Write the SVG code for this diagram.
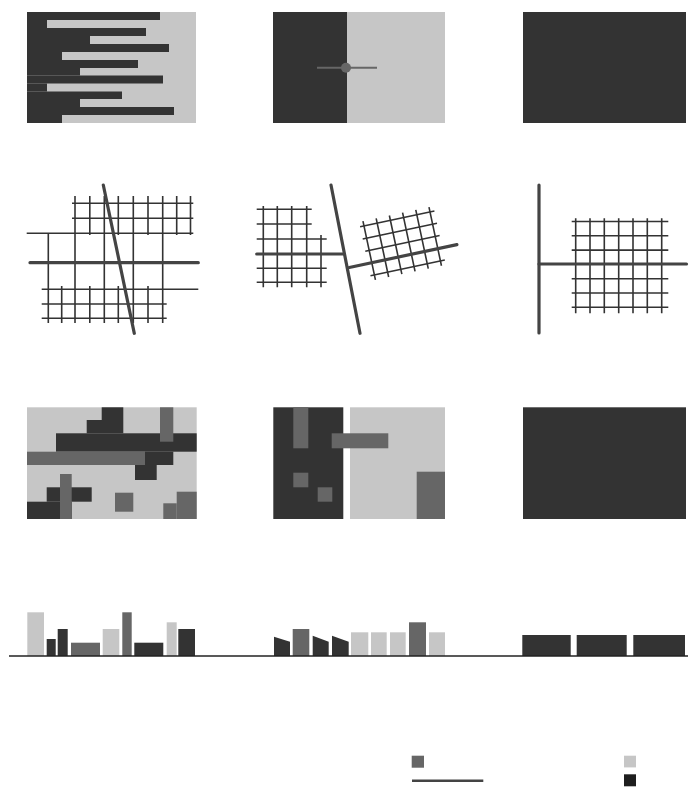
<svg xmlns="http://www.w3.org/2000/svg" width="693" height="787" viewBox="0 0 693 787">
<style>
.dk{fill:#333333}
.lt{fill:#c6c6c6}
.md{fill:#666666}
.thin{stroke:#333333;stroke-width:1.6;fill:none}
.thick{stroke:#444444;stroke-width:3.2;fill:none;stroke-linecap:round}
.base{stroke:#222222;stroke-width:1.5}
</style>
<rect width="693" height="787" fill="#ffffff"/>

<!-- Row 1 -->
<g id="p11">
<rect class="lt" x="27" y="12" width="169" height="111"/>
<rect class="dk" x="27" y="12" width="133" height="8"/>
<rect class="dk" x="27" y="20" width="20" height="8"/>
<rect class="dk" x="27" y="28" width="119" height="8"/>
<rect class="dk" x="27" y="36" width="63" height="8"/>
<rect class="dk" x="27" y="44" width="142" height="8"/>
<rect class="dk" x="27" y="52" width="35" height="8"/>
<rect class="dk" x="27" y="60" width="111" height="8"/>
<rect class="dk" x="27" y="68" width="53" height="7.5"/>
<rect class="dk" x="27" y="75.5" width="136" height="8"/>
<rect class="dk" x="27" y="83.5" width="20" height="8"/>
<rect class="dk" x="27" y="91.5" width="95" height="7.5"/>
<rect class="dk" x="27" y="99" width="53" height="8"/>
<rect class="dk" x="27" y="107" width="147" height="8"/>
<rect class="dk" x="27" y="115" width="35" height="8"/>
</g>
<g id="p12">
<rect class="dk" x="273" y="12" width="74" height="111"/>
<rect class="lt" x="347" y="12" width="98" height="111"/>
<line x1="317" y1="67.7" x2="377" y2="67.7" stroke="#666666" stroke-width="2"/>
<circle cx="346" cy="67.7" r="5" fill="#666666"/>
</g>
<g id="p13">
<rect class="dk" x="523" y="12" width="163" height="111"/>
</g>

<!-- Row 2 -->
<g id="p21">
<path class="thin" d="M72,203.3H193.3M72,218.3H193.3M26.7,233.3H193.3M41.7,289.3H198.3M41.7,304H166.7M41.7,318.3H166.7"/>
<path class="thin" d="M75,196V323M89.8,196V235M104.3,196V323M118.3,196V235M133.3,196V323M148,196V235M162.7,196V323M176.7,196V235M190.5,196V235"/>
<path class="thin" d="M48.3,233.3V323M61.7,286V323M89.8,286V323M118.3,286V323M148,286V323"/>
<line class="thick" x1="30" y1="262.7" x2="198.3" y2="262.7"/>
<line class="thick" x1="103.3" y1="185" x2="134.3" y2="333.3"/>
</g>
<g id="p22">
<path class="thin" d="M256.7,209.3H311.7M256.7,224H311.7M256.7,239H326.7M256.7,268.3H326.7M256.7,282.3H326.7"/>
<path class="thin" d="M263.3,206V287.3M277.3,206V287.3M291.7,206V287.3M306.7,206V287.3M321,235V287.3"/>
<line class="thick" x1="256.7" y1="254" x2="344" y2="254"/>
<line class="thick" x1="331" y1="185" x2="360" y2="333.3"/>
<g transform="translate(364,226) rotate(-12)">
<path class="thin" d="M-4,0H72M-4,12.5H72M-4,25H72M-4,50H72"/>
<path class="thin" d="M0,-5V55M13.5,-5V55M27,-5V55M40.5,-5V55M54,-5V55M67.5,-5V55"/>
<line class="thick" x1="-23" y1="37.5" x2="87" y2="37.5"/>
</g>
</g>
<g id="p23">
<path class="thin" d="M571.7,221.5H668.3M571.7,235.8H668.3M571.7,250.1H668.3M571.7,278.7H668.3M571.7,293H668.3M571.7,307.3H668.3"/>
<path class="thin" d="M575.7,218.3V313.3M590,218.3V313.3M604.3,218.3V313.3M618.7,218.3V313.3M633,218.3V313.3M647.3,218.3V313.3M661.7,218.3V313.3"/>
<line class="thick" x1="539" y1="185" x2="539" y2="333"/>
<line class="thick" x1="539" y1="264" x2="686.5" y2="264"/>
</g>

<!-- Row 3 -->
<g id="p31">
<rect class="lt" x="27" y="407.3" width="169.7" height="111.7"/>
<rect class="dk" x="101.7" y="407.3" width="21.6" height="12.7"/>
<rect class="dk" x="86.7" y="420" width="36.6" height="13.3"/>
<rect class="dk" x="56" y="433.3" width="140.7" height="18.4"/>
<rect class="dk" x="145" y="451.7" width="28.3" height="13.3"/>
<rect class="dk" x="135" y="465" width="21.7" height="15"/>
<rect class="md" x="160" y="407.3" width="13.3" height="34.4"/>
<rect class="md" x="27" y="451.7" width="118" height="13.3"/>
<rect class="dk" x="46.7" y="487.3" width="45" height="14.4"/>
<rect class="dk" x="27" y="501.7" width="44.7" height="17.3"/>
<rect class="md" x="60" y="474" width="11.7" height="45"/>
<rect class="md" x="115" y="492.7" width="18.3" height="19"/>
<rect class="md" x="176.7" y="491.7" width="20" height="27.3"/>
<rect class="md" x="163.3" y="503.3" width="13.4" height="15.7"/>
</g>
<g id="p32">
<rect class="dk" x="273.3" y="407.3" width="70" height="111.7"/>
<rect class="lt" x="350" y="407.3" width="95" height="111.7"/>
<rect class="md" x="293.3" y="407.3" width="15" height="41"/>
<rect class="md" x="331.7" y="433.3" width="56.6" height="15"/>
<rect class="md" x="293.3" y="472.7" width="15" height="14.6"/>
<rect class="md" x="317.7" y="487.3" width="14.6" height="14.4"/>
<rect class="md" x="416.7" y="471.7" width="28.3" height="47.3"/>
</g>
<g id="p33">
<rect class="dk" x="523" y="407.3" width="163" height="111.7"/>
</g>

<!-- Row 4 -->
<g id="p41">
<rect class="lt" x="27.3" y="612.3" width="16.7" height="43.7"/>
<rect class="dk" x="46.7" y="639" width="9" height="17"/>
<rect class="dk" x="57.7" y="629" width="10" height="27"/>
<rect class="md" x="71" y="642.7" width="29" height="13.3"/>
<rect class="lt" x="102.7" y="629" width="16.6" height="27"/>
<rect class="md" x="122.3" y="612.3" width="9.4" height="43.7"/>
<rect class="dk" x="134.3" y="642.7" width="29" height="13.3"/>
<rect class="lt" x="166.7" y="622.3" width="10" height="33.7"/>
<rect class="dk" x="178.3" y="629" width="16.7" height="27"/>
</g>
<g id="p42">
<polygon class="dk" points="274,636.7 290,641.7 290,656 274,656"/>
<rect class="md" x="292.7" y="629" width="16.6" height="27"/>
<polygon class="dk" points="312.7,635.7 328.7,641.7 328.7,656 312.7,656"/>
<polygon class="dk" points="332,635.7 348.7,641.7 348.7,656 332,656"/>
<rect class="lt" x="351" y="632.3" width="17.3" height="23.7"/>
<rect class="lt" x="371" y="632.3" width="15.7" height="23.7"/>
<rect class="lt" x="390" y="632.3" width="15.7" height="23.7"/>
<rect class="md" x="409" y="622.3" width="17" height="33.7"/>
<rect class="lt" x="429" y="632.3" width="16" height="23.7"/>
</g>
<g id="p43">
<rect class="dk" x="522.3" y="635" width="48.4" height="21"/>
<rect class="dk" x="576.7" y="635" width="50" height="21"/>
<rect class="dk" x="633.3" y="635" width="51.7" height="21"/>
</g>
<g id="connectors">
<line class="base" x1="9" y1="656" x2="688" y2="656"/>
</g>

<!-- Legend -->
<g id="legend">
<rect class="md" x="411.7" y="755.7" width="12.3" height="12"/>
<line x1="412" y1="780.7" x2="483.3" y2="780.7" stroke="#444444" stroke-width="2.6"/>
<rect class="lt" x="624" y="755.7" width="12" height="11.7"/>
<rect fill="#1e1e1e" x="624" y="774.3" width="12" height="12"/>
</g>
</svg>
